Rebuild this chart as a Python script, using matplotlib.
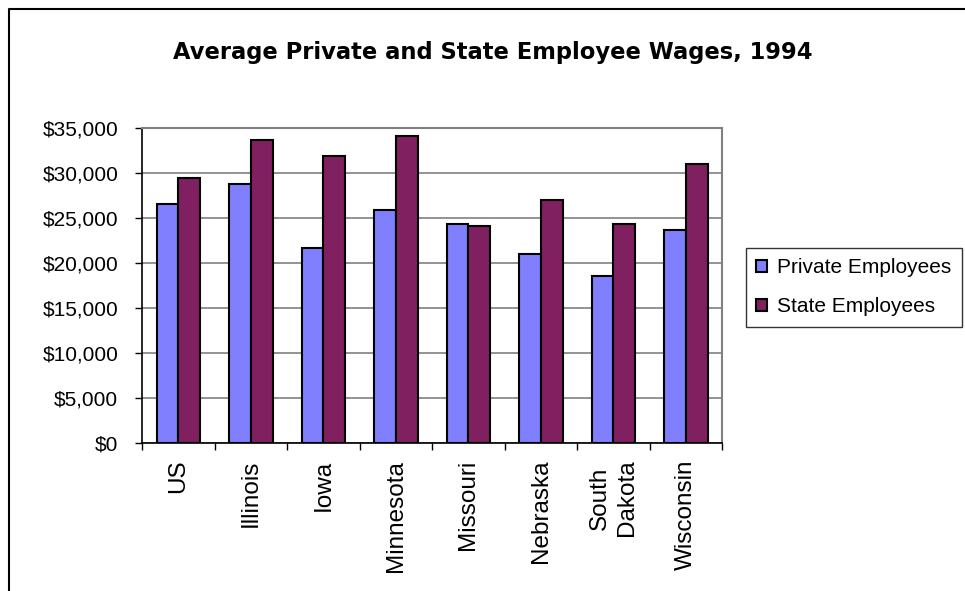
import matplotlib.pyplot as plt
import numpy as np
from matplotlib.lines import Line2D
from matplotlib.ticker import FuncFormatter, MultipleLocator

plt.rcParams['font.family'] = ['Liberation Sans', 'DejaVu Sans']

# Datos
estados = ['US', 'Illinois', 'Iowa', 'Minnesota', 'Missouri', 'Nebraska', 'South\nDakota', 'Wisconsin']
privados = [26600, 28800, 21700, 25900, 24300, 21000, 18600, 23700]
estatales = [29400, 33700, 31900, 34100, 24100, 27000, 24300, 31000]

W, H = 965, 591
fig = plt.figure(figsize=(W / 100, H / 100), dpi=100)

# Marco exterior (solo izquierda y arriba)
fig.add_artist(Line2D(np.array([8.5, 8.5, 965]) / W, 1 - np.array([591, 8.5, 8.5]) / H,
                      color='black', lw=1.5))

ax = fig.add_axes([142 / W, (H - 443) / H, 580 / W, 315 / H])

x = np.arange(len(estados))
ancho = 0.30
b1 = ax.bar(x - ancho / 2, privados, ancho, color='#8080FF', edgecolor='black', lw=1.5,
            label='Private Employees', zorder=3)
b2 = ax.bar(x + ancho / 2, estatales, ancho, color='#802060', edgecolor='black', lw=1.5,
            label='State Employees', zorder=3)

ax.set_xlim(-0.5, len(estados) - 0.5)
ax.set_ylim(0, 35000)
ax.yaxis.set_major_locator(MultipleLocator(5000))
ax.yaxis.set_major_formatter(FuncFormatter(lambda v, p: '${:,.0f}'.format(v)))
ax.grid(axis='y', color='#808080', lw=1.2, zorder=0)

ax.set_xticks(x)
ax.set_xticklabels(estados, rotation=90, va='top', ha='center', fontsize=17.5, linespacing=1.28)
ax.tick_params(axis='x', length=0, pad=12)
ax.set_xticks(np.arange(len(estados) + 1) - 0.5, minor=True)
ax.tick_params(axis='x', which='minor', length=5, color='black', width=1)
ax.tick_params(axis='y', labelsize=15, length=5, width=1, color='black', pad=12)

for lado in ['top', 'right']:
    ax.spines[lado].set_color('#808080')
    ax.spines[lado].set_linewidth(1.5)
for lado in ['left', 'bottom']:
    ax.spines[lado].set_color('black')
    ax.spines[lado].set_linewidth(1.2)

fig.text(492.5 / W, 1 - 53 / H, 'Average Private and State Employee Wages, 1994',
         ha='center', va='center', fontsize=16.3, fontweight='bold', family='DejaVu Sans')

leg = fig.legend(handles=[b1, b2], loc='upper left', bbox_to_anchor=(746 / W, 1 - 248 / H),
                 fontsize=15, frameon=True, fancybox=False, edgecolor='black',
                 handlelength=0.5, handleheight=0.5, handletextpad=0.5, borderpad=0.5,
                 labelspacing=0.95, borderaxespad=0)
leg.get_frame().set_linewidth(1.0)

fig.savefig('out.png', dpi=100)
